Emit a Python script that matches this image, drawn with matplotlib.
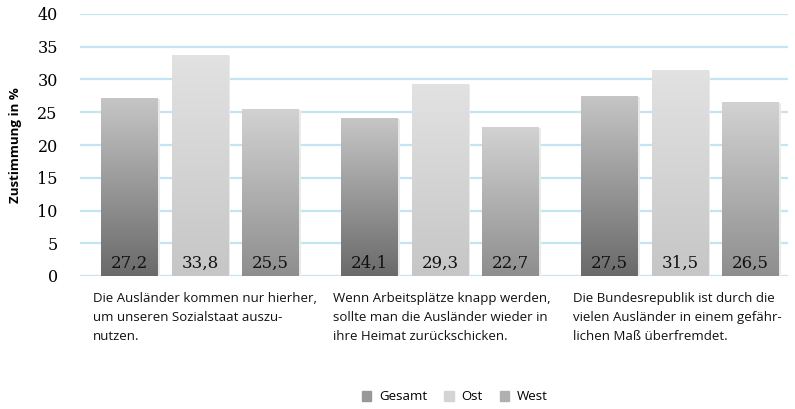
import numpy as np
import matplotlib.pyplot as plt
import matplotlib.colors as mcolors
from matplotlib.patches import Rectangle

categories = [
    "Die Ausländer kommen nur hierher,\num unseren Sozialstaat auszu-\nnutzen.",
    "Wenn Arbeitsplätze knapp werden,\nsollte man die Ausländer wieder in\nihre Heimat zurückschicken.",
    "Die Bundesrepublik ist durch die\nvielen Ausländer in einem gefähr-\nlichen Maß überfremdet.",
]
series_names = ["Gesamt", "Ost", "West"]
gesamt = [27.2, 24.1, 27.5]
ost = [33.8, 29.3, 31.5]
west = [25.5, 22.7, 26.5]
yticks = [0, 5, 10, 15, 20, 25, 30, 35, 40]

# bottom -> top colours of the gradient
grads = [("#6a6a6a", "#c6c6c6"), ("#c6c6c6", "#e2e2e2"), ("#8e8e8e", "#d2d2d2")]

fig = plt.figure(figsize=(7.95, 4.09), dpi=100)
ax = fig.add_axes([80 / 795, 133 / 409, 708 / 795, 262 / 409])

x = np.arange(len(categories))
width = 0.2375
step = 0.294
grad = np.linspace(0, 1, 256).reshape(-1, 1)

for i, (vals, (c0, c1)) in enumerate(zip([gesamt, ost, west], grads)):
    cmap = mcolors.LinearSegmentedColormap.from_list("g%d" % i, [c0, c1])
    bars = ax.bar(x + (i - 1) * step, vals, width, color=c1, zorder=2)
    for b, v in zip(bars, vals):
        bx, bw = b.get_x(), b.get_width()
        # faint shadow on the right
        ax.add_patch(Rectangle((bx + 0.008, 0), bw, v - 0.15, color="#eaeaea",
                               zorder=1.5, lw=0))
        im = ax.imshow(grad, cmap=cmap, origin="lower", aspect="auto",
                       extent=(bx, bx + bw, 0, v), zorder=2.5)
        im.set_clip_path(b)
        ax.text(bx + bw / 2, 2.0, ("%.1f" % v).replace(".", ","), ha="center",
                va="center", fontsize=12, family="DejaVu Serif", color="#111111",
                zorder=3)

ax.set_xlim(-0.5, 2.45)
ax.set_ylim(0, 40)
ax.set_yticks(yticks)
ax.set_yticklabels([str(t) for t in yticks], family="DejaVu Serif", fontsize=11.5)
ax.tick_params(axis="y", length=0, pad=16)
ax.set_xticks([])
ax.yaxis.grid(True, color="#c4e4f4", lw=1.6, zorder=0)
ax.set_axisbelow(True)
for s in ax.spines.values():
    s.set_visible(False)
ax.set_ylabel("Zustimmung in %", fontsize=9.5, fontweight="bold",
              family="Open Sans", labelpad=11)

for i, cat in enumerate(categories):
    ax.text(i - 0.5 + 13 / 240, -2.4, cat, ha="left", va="top", fontsize=9.5,
            family="Open Sans", linespacing=1.62, color="#111111")

handles = []
for i, (c0, c1) in enumerate(grads):
    handles.append(Rectangle((0, 0), 1, 1, color=mcolors.to_hex(
        np.mean([mcolors.to_rgb(c0), mcolors.to_rgb(c1)], axis=0))))
leg = fig.legend(handles, series_names, loc="center", bbox_to_anchor=(455 / 795, 12 / 409),
                 ncol=3, frameon=False, handlelength=0.7,
                 handleheight=0.7, handletextpad=0.6, columnspacing=1.3,
                 prop={"family": "Open Sans", "size": 9.5})

fig.savefig("out.png", dpi=100)
